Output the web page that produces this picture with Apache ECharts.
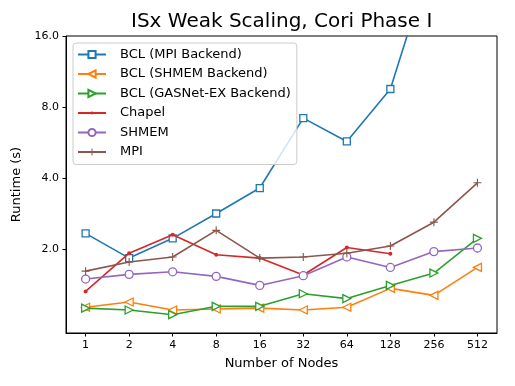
<!DOCTYPE html>
<html>
<head>
<meta charset="utf-8">
<script src="https://cdn.jsdelivr.net/npm/echarts@6/dist/echarts.min.js"></script>
<style>
html,body{margin:0;padding:0;background:#fff;}
#c{width:515px;height:386px;}
</style>
</head>
<body>
<div id="c"></div>
<script>
// ---- data ----
var nodes = [1, 2, 4, 8, 16, 32, 64, 128, 256, 512];
var yTicks = [2, 4, 8, 16];
var seriesNames = ['BCL (MPI Backend)', 'BCL (SHMEM Backend)', 'BCL (GASNet-EX Backend)', 'Chapel', 'SHMEM', 'MPI'];
var bclMpi    = [2.34, 1.84, 2.23, 2.84, 3.64, 7.19, 5.73, 9.55, 36.7, null];
var bclShmem  = [1.14, 1.20, 1.11, 1.12, 1.13, 1.11, 1.14, 1.37, 1.28, 1.68];
var bclGasnet = [1.13, 1.11, 1.06, 1.15, 1.15, 1.30, 1.24, 1.41, 1.59, 2.23];
var chapel    = [1.33, 1.93, 2.31, 1.90, 1.84, 1.56, 2.04, 1.92];
var shmem     = [1.50, 1.57, 1.61, 1.54, 1.41, 1.55, 1.86, 1.68, 1.96, 2.03];
var mpi       = [1.62, 1.77, 1.86, 2.41, 1.84, 1.86, 1.93, 2.07, 2.61, 3.83];

// ---- styling ----
var FONT = 'DejaVu Sans';
var colors = ['#1f77b4', '#ff7f0e', '#2ca02c', '#d62728', '#9467bd', '#8c564b'];
var SYM_LEFT = 'path://M0,5L10,0L10,10Z';
var SYM_RIGHT = 'path://M10,5L0,0L0,10Z';
var SYM_PLUS = 'path://M4.3,0h1.4v4.3h4.3v1.4h-4.3v4.3h-1.4v-4.3h-4.3v-1.4h4.3z';
var SYM_DOT = 'path://M0,0L0,0M10,10L10,10M3,5a2,2 0 1,0 4,0a2,2 0 1,0 -4,0z';

function pairs(vals) {
  var out = [];
  for (var i = 0; i < vals.length; i++) out.push([nodes[i], vals[i]]);
  return out;
}

function mk(idx, vals, symbol, size, hollow) {
  var c = colors[idx];
  return {
    name: seriesNames[idx],
    type: 'line',
    data: pairs(vals),
    symbol: symbol,
    symbolSize: size,
    showSymbol: true,
    connectNulls: false,
    clip: true,
    lineStyle: { color: c, width: 1.6 },
    itemStyle: hollow ? { color: '#ffffff', borderColor: c, borderWidth: 1.3 }
                      : { color: c, borderColor: c, borderWidth: 0 },
    emphasis: { disabled: true },
    z: 2 + idx
  };
}

var chart = echarts.init(document.getElementById('c'), null, { renderer: 'canvas' });
chart.setOption({
  animation: false,
  backgroundColor: '#ffffff',
  textStyle: { fontFamily: FONT },
  title: {
    text: 'ISx Weak Scaling, Cori Phase I',
    left: 131, top: 12, padding: 0,
    textStyle: { fontFamily: FONT, fontSize: 20, fontWeight: 'normal', color: '#000' }
  },
  grid: {
    left: 66, right: 18, top: 36, bottom: 53,
    show: true, borderColor: '#000', borderWidth: 1, backgroundColor: 'transparent',
    containLabel: false
  },
  legend: {
    orient: 'vertical',
    left: 73, top: 43,
    padding: [5, 6, 6, 4],
    itemWidth: 28, itemHeight: 9, itemGap: 6.5,
    backgroundColor: 'rgba(255,255,255,0.8)',
    borderColor: '#cccccc', borderWidth: 1, borderRadius: 3,
    textStyle: { fontFamily: FONT, fontSize: 13, color: '#000', padding: [0, 0, 0, 9] },
    data: seriesNames
  },
  xAxis: {
    type: 'log', logBase: 2, min: 0.732, max: 699,
    name: 'Number of Nodes', nameLocation: 'middle', nameGap: 24,
    nameTextStyle: { fontFamily: FONT, fontSize: 13, color: '#000' },
    axisLine: { show: true, lineStyle: { color: '#000', width: 1 } },
    axisTick: { show: true, length: 3.5, inside: false, customValues: nodes, lineStyle: { color: '#000', width: 1 } },
    axisLabel: { customValues: nodes, margin: 7, fontFamily: FONT, fontSize: 11, color: '#000',
      formatter: function (v) { return String(Math.round(v)); } },
    splitLine: { show: false }, minorTick: { show: false }, minorSplitLine: { show: false }
  },
  yAxis: {
    type: 'log', logBase: 2, min: 0.887, max: 16,
    name: 'Runtime (s)', nameLocation: 'middle', nameGap: 34,
    nameTextStyle: { fontFamily: FONT, fontSize: 13, color: '#000' },
    axisLine: { show: true, lineStyle: { color: '#000', width: 1 } },
    axisTick: { show: true, length: 3.5, inside: false, customValues: yTicks, lineStyle: { color: '#000', width: 1 } },
    axisLabel: { customValues: yTicks, margin: 7, fontFamily: FONT, fontSize: 11, color: '#000',
      formatter: function (v) { return Number(v).toFixed(1); } },
    splitLine: { show: false }, minorTick: { show: false }, minorSplitLine: { show: false }
  },
  series: [
    mk(0, bclMpi, 'rect', 7, true),
    mk(1, bclShmem, SYM_LEFT, 8, true),
    mk(2, bclGasnet, SYM_RIGHT, 8, true),
    mk(3, chapel, SYM_DOT, 10, false),
    mk(4, shmem, 'circle', 8, true),
    mk(5, mpi, SYM_PLUS, 8, false)
  ]
});
</script>
</body>
</html>
